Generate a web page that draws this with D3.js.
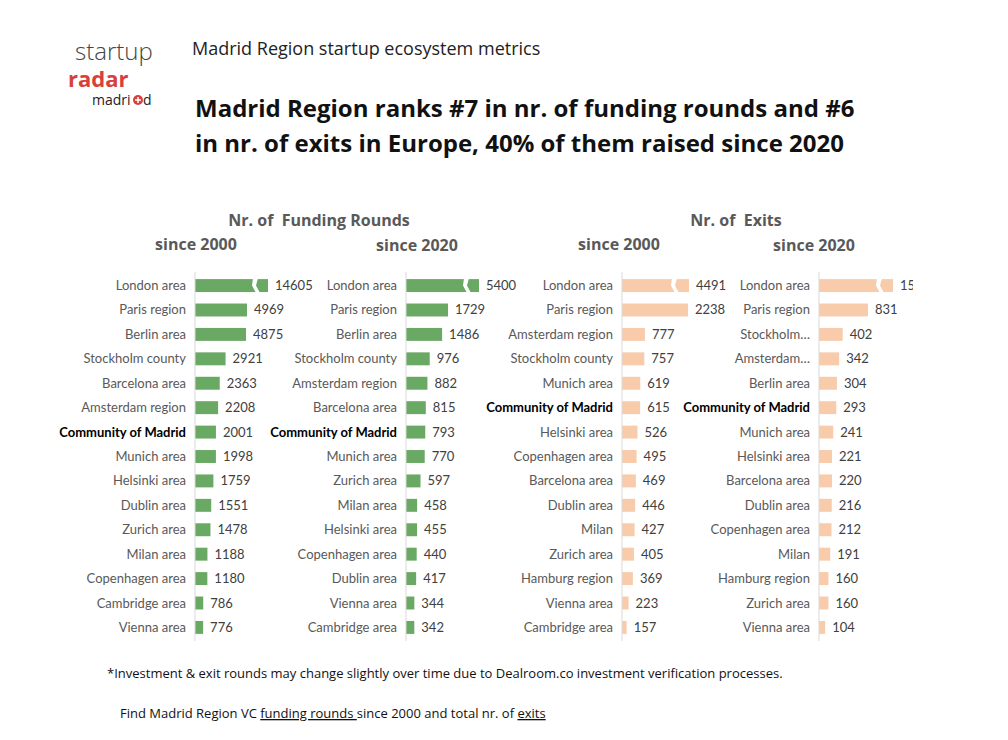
<!DOCTYPE html>
<html><head><meta charset="utf-8">
<script src="https://cdn.jsdelivr.net/npm/d3@7"></script>
<style>body{margin:0;background:#fff;font-family:"Open Sans",sans-serif}</style>
</head><body>
<svg id="chart" width="1008" height="740"></svg>
<script>
const fundAllNames = ["London area","Paris region","Berlin area","Stockholm county","Barcelona area","Amsterdam region","Community of Madrid","Munich area","Helsinki area","Dublin area","Zurich area","Milan area","Copenhagen area","Cambridge area","Vienna area"];
const fundAllValues = [14605,4969,4875,2921,2363,2208,2001,1998,1759,1551,1478,1188,1180,786,776];
const fund20Names = ["London area","Paris region","Berlin area","Stockholm county","Amsterdam region","Barcelona area","Community of Madrid","Munich area","Zurich area","Milan area","Helsinki area","Copenhagen area","Dublin area","Vienna area","Cambridge area"];
const fund20Values = [5400,1729,1486,976,882,815,793,770,597,458,455,440,417,344,342];
const exitAllNames = ["London area","Paris region","Amsterdam region","Stockholm county","Munich area","Community of Madrid","Helsinki area","Copenhagen area","Barcelona area","Dublin area","Milan","Zurich area","Hamburg region","Vienna area","Cambridge area"];
const exitAllValues = [4491,2238,777,757,619,615,526,495,469,446,427,405,369,223,157];
const exit20Names = ["London area","Paris region","Stockholm…","Amsterdam…","Berlin area","Community of Madrid","Munich area","Helsinki area","Barcelona area","Dublin area","Copenhagen area","Milan","Hamburg region","Zurich area","Vienna area"];
const exit20Values = [1590,831,402,342,304,293,241,221,220,216,212,191,160,160,104];

const svg = d3.select("#chart");
const gray = "#404040";
const F = "Lato, 'Open Sans', sans-serif";

// logo
svg.append("text").attr("x",75).attr("y",60).attr("font-size",24).attr("fill","#444").attr("font-weight",300).text("startup");
svg.append("text").attr("x",68).attr("y",87).attr("font-size",22).attr("font-weight","bold").attr("fill","#d9403a").text("radar");
svg.append("text").attr("x",92).attr("y",105).attr("font-size",14).attr("fill","#222").text("madri");
svg.append("circle").attr("cx",138).attr("cy",100).attr("r",5).attr("fill","#d9403a");
svg.append("path").attr("d","M135 100H141M138 97V103").attr("stroke","#fff").attr("stroke-width",1.5);
svg.append("text").attr("x",143).attr("y",105).attr("font-size",14).attr("fill","#222").text("d");

svg.append("text").attr("x",192).attr("y",55).attr("font-size",18).attr("fill","#222").text("Madrid Region startup ecosystem metrics");
svg.append("text").attr("x",195).attr("y",117).attr("font-size",24).attr("font-weight","bold").attr("fill","#111").text("Madrid Region ranks #7 in nr. of funding rounds and #6");
svg.append("text").attr("x",195).attr("y",152).attr("font-size",24).attr("font-weight","bold").attr("fill","#111").text("in nr. of exits in Europe, 40% of them raised since 2020");

const hdr = (x,y,t)=>svg.append("text").attr("x",x).attr("y",y).attr("font-size",16).attr("font-weight","bold").attr("fill","#595959").attr("text-anchor","middle").attr("xml:space","preserve").text(t);
hdr(319,226,"Nr. of  Funding Rounds"); hdr(196,250,"since 2000"); hdr(417,251,"since 2020");
hdr(736,226,"Nr. of  Exits"); hdr(619,250,"since 2000"); hdr(814,251,"since 2020");

function panel(names, values, x0, capValue, cap, breakAt, endW, color, maxX){
  const y = d3.scaleBand().domain(names).range([273,640]).paddingInner(0.47).paddingOuter(0.25);
  const x = d3.scaleLinear().domain([0,capValue]).range([x0, x0+cap]);
  const g = svg.append("g").attr("font-family",F);
  const clip = "c"+x0;
  g.append("clipPath").attr("id",clip).append("rect").attr("x",0).attr("y",0).attr("width",maxX).attr("height",740);
  const gg = g.append("g").attr("clip-path",`url(#${clip})`);
  gg.selectAll("rect").data(values).join("rect")
    .attr("x",x0).attr("y",(d,i)=>y(names[i]))
    .attr("width",(d,i)=> i===0 ? endW : x(d)-x0)
    .attr("height",y.bandwidth()).attr("fill",color);
  const h = y.bandwidth(), t = y(names[0]), b = x0+breakAt;
  gg.append("path").attr("fill","#fff")
    .attr("d",`M${b} ${t-1}L${b+5} ${t-1}L${b+3} ${t+h*0.5}L${b+7} ${t+h+1}L${b+3} ${t+h+1}L${b-1} ${t+h*0.5}Z`);
  gg.selectAll("text.v").data(values).join("text").attr("class","v")
    .attr("x",(d,i)=> (i===0 ? x0+endW : x(d)) + 7)
    .attr("y",(d,i)=>y(names[i])+h/2+4.5).attr("font-size",13).attr("fill",gray).text(d=>d);
  g.selectAll("text.n").data(names).join("text").attr("class","n")
    .attr("x",x0-9).attr("y",d=>y(d)+h/2+4.5).attr("text-anchor","end")
    .attr("font-size",13).attr("fill", d=>d==="Community of Madrid"?"#000":"#595959")
    .attr("font-weight", d=>d==="Community of Madrid"?"bold":"normal").text(d=>d);
  g.append("line").attr("x1",x0).attr("x2",x0).attr("y1",272).attr("y2",641).attr("stroke","#d9d9d9");
}
panel(fundAllNames, fundAllValues, 195, 4969, 52, 58, 73, "#6aa964", 1008);
panel(fund20Names, fund20Values, 406, 1729, 42, 58, 73, "#6aa964", 1008);
panel(exitAllNames, exitAllValues, 622, 2238, 66, 50, 67, "#f8cbab", 1008);
panel(exit20Names, exit20Values, 819, 831, 49, 58, 74, "#f8cbab", 913);

svg.append("text").attr("x",107).attr("y",678).attr("font-size",13).attr("fill","#111").text("*Investment & exit rounds may change slightly over time due to Dealroom.co investment verification processes.");
const ft = svg.append("text").attr("x",120).attr("y",718).attr("font-size",13).attr("fill","#111");
ft.append("tspan").text("Find Madrid Region VC ");
ft.append("tspan").attr("text-decoration","underline").text("funding rounds ");
ft.append("tspan").text("since 2000 and total nr. of ");
ft.append("tspan").attr("text-decoration","underline").text("exits");
</script>
</body></html>
